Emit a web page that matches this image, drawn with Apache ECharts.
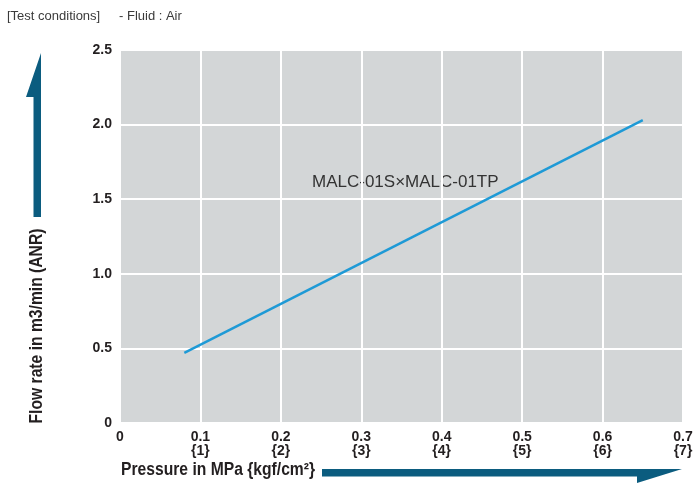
<!DOCTYPE html>
<html><head><meta charset="utf-8">
<script src="https://cdn.jsdelivr.net/npm/echarts@6/dist/echarts.min.js"></script>
<style>html,body{margin:0;padding:0;background:#fff}#c{width:693px;height:484px}</style>
</head><body><div id="c"></div>
<script>
const pressure = [0.08, 0.65];
const flow = [0.47, 2.03];
const xTickLabels = ['0', '0.1\n{1}', '0.2\n{2}', '0.3\n{3}', '0.4\n{4}', '0.5\n{5}', '0.6\n{6}', '0.7\n{7}'];
const yTickLabels = ['0', '0.5', '1.0', '1.5', '2.0', '2.5'];
const seriesName = 'MALC-01S×MALC-01TP';
const FONT = '"Liberation Sans",Arial,sans-serif';
const ARROW = '#0b5c7f';
const chart = echarts.init(document.getElementById('c'), null, {renderer: 'canvas'});
chart.setOption({
  animation: false,
  grid: {left: 120, top: 50, right: 10, bottom: 61, show: true, backgroundColor: '#d3d6d7', borderWidth: 0, containLabel: false, outerBoundsMode: 'none'},
  xAxis: {
    type: 'value', min: 0, max: 0.7, interval: 0.1,
    axisLine: {show: false}, axisTick: {show: false},
    splitLine: {lineStyle: {color: '#ffffff', width: 2}},
    axisLabel: {
      margin: 7, color: '#231f20', fontFamily: FONT, fontWeight: 'bold', fontSize: 14, lineHeight: 14,
      verticalAlign: 'top', showMaxLabel: true, showMinLabel: true,
      formatter: v => xTickLabels[Math.round(v * 10)]
    }
  },
  yAxis: {
    type: 'value', min: 0, max: 2.5, interval: 0.5,
    axisLine: {show: false}, axisTick: {show: false},
    splitLine: {lineStyle: {color: '#ffffff', width: 2}},
    axisLabel: {
      margin: 8, color: '#231f20', fontFamily: FONT, fontWeight: 'bold', fontSize: 14,
      formatter: v => yTickLabels[Math.round(v * 2)]
    }
  },
  series: [{
    type: 'line', name: seriesName, showSymbol: false, symbol: 'none',
    data: pressure.map((p, i) => [p, flow[i]]),
    lineStyle: {color: '#1e9ad6', width: 2.5}
  }],
  graphic: [
    {type: 'text', left: 7, top: 10, style: {text: '[Test conditions]', fill: '#3a3a3a', font: '13px ' + FONT}},
    {type: 'text', left: 119, top: 10, style: {text: '- Fluid : Air', fill: '#3a3a3a', font: '13px ' + FONT}},
    {type: 'text', left: 312, top: 174, style: {text: seriesName, fill: '#333333', font: '17px ' + FONT}},
    {type: 'text', x: 121, y: 470, scaleX: 0.87, style: {text: 'Pressure in MPa {kgf/cm²}', fill: '#231f20', font: 'bold 18px ' + FONT, verticalAlign: 'middle'}},
    {type: 'text', x: 37, y: 326, rotation: Math.PI / 2, scaleX: 0.87, style: {text: 'Flow rate in m3/min (ANR)', fill: '#231f20', font: 'bold 18px ' + FONT, align: 'center', verticalAlign: 'middle'}},
    {type: 'polygon', shape: {points: [[322, 469], [682, 469], [637, 483], [637, 476.5], [322, 476.5]]}, style: {fill: ARROW}},
    {type: 'polygon', shape: {points: [[33.5, 217], [33.5, 97], [26, 97], [41, 53], [41, 217]]}, style: {fill: ARROW}}
  ]
});
</script></body></html>
